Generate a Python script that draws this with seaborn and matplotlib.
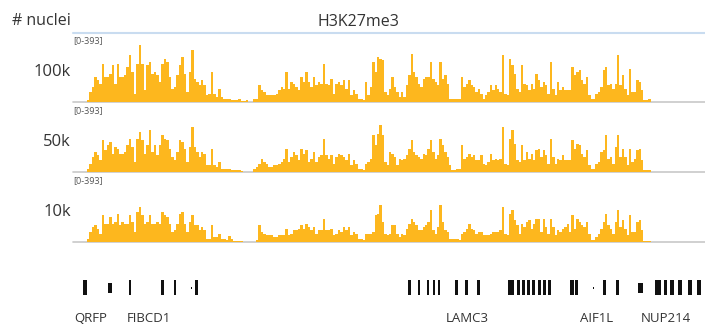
import numpy as np
import pandas as pd
import matplotlib
matplotlib.use("Agg")
import matplotlib.pyplot as plt
import seaborn as sns
from matplotlib.lines import Line2D

# signal per bin, range [0-393]
# left block (first 112 bins) and right block (119 bins)
sig_100k = [10, 60, 90, 150, 130, 110, 230, 150, 150, 170,
            220, 110, 230, 150, 150, 160, 210, 280, 180, 50,
            230, 340, 230, 70, 220, 240, 170, 180, 160, 120,
            230, 260, 240, 150, 80, 90, 160, 220, 270, 170,
            60, 180, 310, 140, 120, 100, 130, 100, 40, 50,
            180, 50, 30, 80, 30, 20, 20, 20, 10, 10,
            10, 16, 6, 6, 10, 0, 0, 16, 16, 100,
            70, 60, 40, 40, 40, 40, 50, 70, 90, 80,
            180, 80, 120, 110, 90, 70, 150, 120, 180, 120,
            90, 150, 100, 120, 110, 230, 110, 100, 140, 50,
            110, 120, 100, 130, 80, 130, 40, 70, 50, 20,
            20, 10,
            120, 40, 90, 240, 180, 270, 260, 250, 60, 40,
            80, 150, 90, 60, 30, 60, 30, 100, 160, 290,
            180, 150, 110, 90, 140, 150, 150, 240, 140, 120,
            100, 240, 140, 160, 110, 20, 20, 20, 20, 20,
            150, 90, 110, 130, 100, 90, 60, 80, 50, 20,
            40, 60, 100, 70, 100, 80, 60, 280, 50, 40,
            260, 220, 170, 80, 60, 220, 110, 100, 70, 110,
            80, 170, 130, 90, 120, 100, 50, 240, 80, 40,
            120, 70, 90, 70, 70, 70, 210, 160, 180, 190,
            130, 110, 150, 40, 20, 20, 50, 60, 90, 190,
            210, 100, 110, 80, 110, 280, 100, 160, 80, 40,
            200, 60, 60, 130, 120, 70, 10, 10, 20]

sig_50k = [20, 50, 90, 120, 100, 70, 190, 130, 160, 180,
           110, 150, 140, 110, 110, 120, 160, 200, 150, 60,
           200, 240, 190, 110, 160, 250, 120, 160, 100, 160,
           220, 200, 190, 140, 90, 70, 120, 190, 180, 140,
           60, 150, 270, 150, 120, 90, 120, 110, 40, 40,
           140, 40, 30, 60, 20, 20, 20, 20, 10, 10,
           10, 10, 8, 0, 0, 0, 0, 20, 30, 50,
           76, 60, 50, 30, 30, 40, 40, 50, 60, 80,
           140, 60, 90, 120, 100, 70, 140, 110, 130, 60,
           80, 120, 60, 90, 100, 200, 100, 80, 100, 50,
           90, 110, 100, 90, 70, 110, 40, 70, 50, 20,
           20, 10,
           50, 60, 80, 220, 160, 230, 280, 220, 60, 40,
           120, 110, 90, 40, 80, 70, 80, 100, 140, 190,
           120, 100, 90, 80, 110, 100, 140, 190, 120, 80,
           100, 200, 160, 120, 90, 40, 10, 10, 20, 20,
           160, 80, 90, 110, 90, 100, 70, 70, 100, 50,
           40, 60, 110, 70, 80, 70, 80, 270, 50, 40,
           200, 250, 170, 70, 60, 160, 70, 120, 80, 110,
           70, 130, 140, 90, 130, 100, 50, 200, 90, 50,
           80, 70, 100, 70, 70, 70, 190, 140, 170, 160,
           110, 90, 130, 40, 16, 16, 50, 60, 120, 130,
           220, 80, 90, 50, 150, 220, 90, 140, 90, 40,
           140, 60, 80, 130, 140, 70, 10, 10, 10]

sig_10k = [20, 60, 90, 100, 80, 50, 160, 110, 110, 150,
           110, 120, 170, 100, 120, 110, 110, 160, 120, 60,
           180, 210, 160, 110, 120, 160, 110, 110, 120, 110,
           180, 160, 150, 110, 60, 70, 110, 170, 180, 110,
           60, 120, 160, 100, 100, 70, 90, 70, 20, 20,
           100, 30, 30, 50, 20, 20, 10, 36, 16, 6,
           6, 6, 6, 0, 0, 0, 0, 0, 10, 100,
           60, 50, 40, 40, 40, 30, 30, 40, 40, 40,
           80, 40, 50, 70, 70, 80, 100, 80, 110, 90,
           70, 90, 50, 70, 70, 140, 70, 70, 80, 40,
           50, 70, 60, 90, 70, 90, 40, 60, 50, 20,
           20, 10,
           50, 50, 50, 60, 160, 170, 220, 120, 50, 40,
           50, 100, 100, 50, 30, 50, 40, 80, 110, 140,
           120, 100, 70, 70, 90, 100, 120, 190, 70, 50,
           90, 220, 120, 70, 60, 20, 16, 16, 16, 10,
           50, 60, 80, 110, 80, 70, 50, 60, 60, 40,
           40, 40, 50, 60, 60, 60, 70, 210, 50, 40,
           170, 190, 130, 100, 50, 110, 90, 120, 130, 80,
           110, 140, 140, 60, 140, 90, 50, 140, 90, 40,
           70, 60, 80, 90, 110, 60, 160, 80, 140, 120,
           100, 90, 120, 50, 10, 10, 30, 50, 80, 120,
           170, 100, 80, 50, 120, 190, 90, 130, 80, 40,
           160, 60, 60, 120, 130, 70, 6, 6, 6]

track_labels = ["100k", "50k", "10k"]
data_range = "[0-393]"

# exons (start, end) on the same coordinate as the bins, and kind
exon_start = [83, 108, 129, 161, 174, 190.5, 195,
              408, 418, 427, 433, 437.5, 455, 465, 477,
              508, 517, 522, 527, 532, 538, 543, 548,
              570, 575, 592.5, 603, 616,
              638, 655, 663.5, 670, 678, 688, 697]
exon_end = [86.5, 112, 131, 163.5, 176, 192, 197.5,
            410.5, 420, 429, 435, 439.5, 457.5, 467.5, 479.5,
            513.5, 519.5, 524.5, 529.5, 534.5, 541, 546, 551,
            573.5, 577.5, 594, 605.5, 618.5,
            642.5, 660.5, 666.5, 673.5, 682, 692, 700.5]
exon_kind = ["tall", "short", "tall", "tall", "tall", "dot", "tall",
             "tall", "tall", "tall", "tall", "tall", "tall", "tall", "tall",
             "tall", "tall", "tall", "tall", "tall", "tall", "tall", "tall",
             "tall", "tall", "dot", "tall", "tall",
             "short", "tall", "tall", "tall", "tall", "tall", "tall"]
gene_names = ["QRFP", "FIBCD1", "LAMC3", "AIF1L", "NUP214"]
gene_name_x = [91, 149, 467, 597, 666]

BAR = "#fdb71e"
TXT = "#333333"

sns.set_theme(style="white")
plt.rcParams["font.family"] = ["Open Sans", "DejaVu Sans"]

W, H = 705, 324
fig = plt.figure(figsize=(W / 100, H / 100), dpi=100)


def px_box(x0, y0, x1, y1):
    return [x0 / W, 1 - y1 / H, (x1 - x0) / W, (y1 - y0) / H]


# bin edges: left block 112 bins, right block 119 bins
edges = np.concatenate([np.linspace(86.7, 365, 113), np.linspace(365, 650.7, 120)[1:]])
centers = (edges[:-1] + edges[1:]) / 2

fig.text(12 / W, 1 - 21 / H, "# nuclei", ha="left", va="center", fontsize=11.5, color=TXT)
fig.text(358 / W, 1 - 22 / H, "H3K27me3", ha="center", va="center", fontsize=11.5, color=TXT)
fig.add_artist(Line2D([73 / W, 1], [1 - 33 / H] * 2, color="#c9dcf0", lw=1.5))

baselines = [102, 172, 242]
for label, vals, base in zip(track_labels, [sig_100k, sig_50k, sig_10k], baselines):
    ax = fig.add_axes(px_box(73, base - 65.5, 705, base))
    df = pd.DataFrame({"pos": centers, "signal": vals})
    sns.histplot(data=df, x="pos", weights="signal", bins=list(edges), element="step",
                 fill=True, color=BAR, alpha=1, linewidth=0, ax=ax)
    ax.axhline(0, color="#c8c8c8", lw=1.2, zorder=0, clip_on=False)
    ax.set_xlim(73, 705)
    ax.set_ylim(0, 393)
    ax.axis("off")
    ax.text(0, 1.0, data_range, transform=ax.transAxes, ha="left", va="top",
            fontsize=6.5, color="#555555")
    fig.text(71 / W, 1 - (base - 30) / H, label, ha="right", va="center",
             fontsize=12, color=TXT)

# gene track
gax = fig.add_axes(px_box(73, 274, 705, 324))
gax.set_xlim(73, 705)
gax.set_ylim(324, 274)
heights = {"tall": 15, "short": 10, "dot": 2}
h = [heights[k] for k in exon_kind]
s = np.array(exon_start)
e = np.array(exon_end)
gax.bar((s + e) / 2, h, width=e - s, bottom=[287.5 - v / 2 for v in h],
        color="#111111", linewidth=0)
for name, x in zip(gene_names, gene_name_x):
    gax.text(x, 318, name, ha="center", va="center", fontsize=9.5, color=TXT)
gax.axis("off")

fig.savefig("out.png", dpi=100)
